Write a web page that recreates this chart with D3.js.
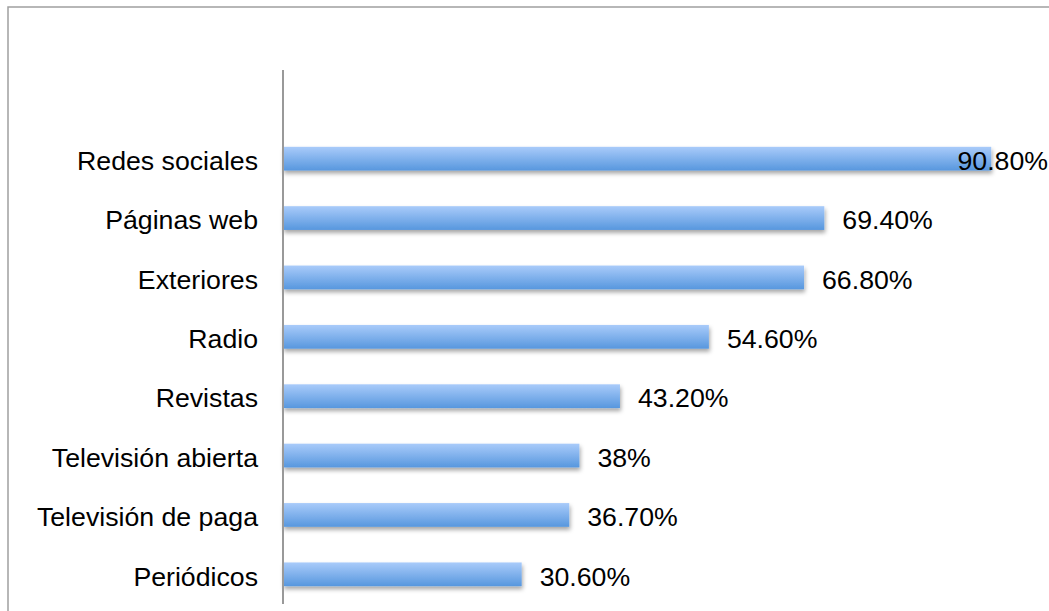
<!DOCTYPE html>
<html>
<head>
<meta charset="utf-8">
<script src="https://cdn.jsdelivr.net/npm/d3@7"></script>
<style>
  body { margin: 0; background: #fff; }
  svg { display: block; font-family: "Liberation Sans", Arial, sans-serif; }
</style>
</head>
<body>
<svg id="chart"></svg>
<script>
const width = 1049, height = 611;

// Data
const categories = ["Redes sociales", "Páginas web", "Exteriores", "Radio", "Revistas",
                    "Televisión abierta", "Televisión de paga", "Periódicos"];
const values = [90.8, 69.4, 66.8, 54.6, 43.2, 38, 36.7, 30.6];
const valueLabels = ["90.80%", "69.40%", "66.80%", "54.60%", "43.20%", "38%", "36.70%", "30.60%"];

const data = categories.map((c, i) => ({ name: c, value: values[i], label: valueLabels[i] }));

const fontSize = "26.7px";

const svg = d3.select("#chart")
    .attr("width", width)
    .attr("height", height);

// gradient + shadow
const defs = svg.append("defs");
const grad = defs.append("linearGradient")
    .attr("id", "barGrad")
    .attr("x1", 0).attr("y1", 0).attr("x2", 0).attr("y2", 1);
grad.append("stop").attr("offset", "0%").attr("stop-color", "#a9cbfa");
grad.append("stop").attr("offset", "100%").attr("stop-color", "#5797de");

const shadow = defs.append("filter")
    .attr("id", "shadow")
    .attr("x", "-5%").attr("y", "-30%")
    .attr("width", "110%").attr("height", "180%");
shadow.append("feDropShadow")
    .attr("dx", 1).attr("dy", 3)
    .attr("stdDeviation", 2)
    .attr("flood-color", "#000")
    .attr("flood-opacity", 0.35);

// outer frame
svg.append("path")
    .attr("d", `M8,${height} L8,7 L${width},7`)
    .attr("fill", "none")
    .attr("stroke", "#a0a0a0")
    .attr("stroke-width", 1.5);

// scales
const x = d3.scaleLinear().domain([0, 100]).range([283, 1063]);
const y = d3.scaleBand().domain(categories).range([129, 604]).paddingInner(0.6).paddingOuter(0.3);

// bars
svg.append("g")
    .selectAll("rect")
    .data(data)
    .join("rect")
    .attr("x", x(0))
    .attr("y", d => y(d.name))
    .attr("width", d => x(d.value) - x(0))
    .attr("height", y.bandwidth())
    .attr("fill", "url(#barGrad)")
    .attr("filter", "url(#shadow)");

// category axis
const yAxis = svg.append("g")
    .attr("transform", `translate(${x(0)},0)`)
    .call(d3.axisLeft(y).tickSize(0).tickPadding(25));
yAxis.select(".domain").remove();
yAxis.selectAll("text")
    .attr("font-size", fontSize)
    .attr("font-family", "Liberation Sans, Arial, sans-serif")
    .attr("fill", "#000")
    .attr("dy", "0.42em");

svg.append("line")
    .attr("x1", x(0)).attr("x2", x(0))
    .attr("y1", 70).attr("y2", 604)
    .attr("stroke", "#999")
    .attr("stroke-width", 2);

// value labels (the longest one is pushed back inside the frame, overlapping its bar)
svg.append("g")
    .selectAll("text")
    .data(data)
    .join("text")
    .attr("font-size", fontSize)
    .attr("fill", "#000")
    .attr("y", d => y(d.name) + y.bandwidth() / 2)
    .attr("dy", "0.42em")
    .text(d => d.label)
    .each(function (d) {
        const t = d3.select(this);
        const w = this.getComputedTextLength();
        let lx = x(d.value) + 18;
        if (lx + w > width) lx = width - 1 - w;
        t.attr("x", lx);
    });
</script>
</body>
</html>
